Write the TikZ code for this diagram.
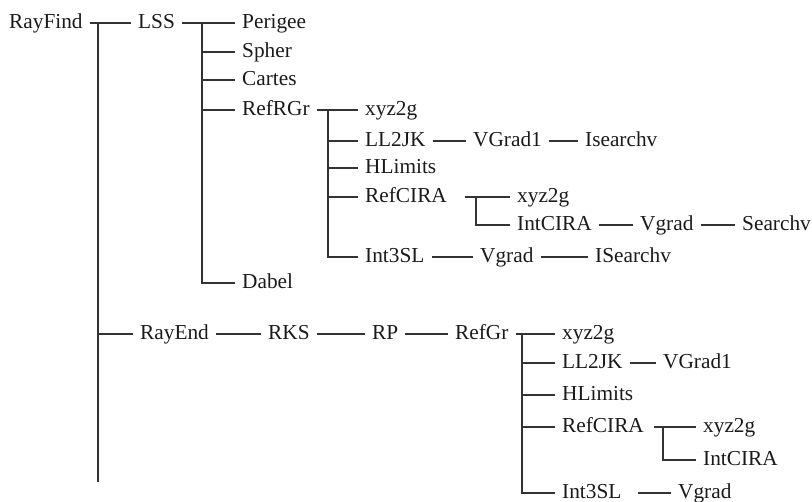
\documentclass[tikz,border=0pt]{standalone}
\usepackage{fontspec}
\setmainfont{Liberation Serif}
\definecolor{linegray}{HTML}{333333}
\definecolor{textgray}{HTML}{1A1A1A}
\tikzset{
  lbl/.style={anchor=west, inner xsep=7pt, inner ysep=0pt,
    text height=12pt, text depth=0pt,
    font=\fontsize{21.3}{24}\selectfont, text=textgray},
  link/.style={draw=linegray, line width=1.8pt}
}
\begin{document}
\begin{tikzpicture}[x=1pt, y=-1pt]
    \useasboundingbox (0,0) rectangle (812,502);

    % 第一层
    \node[lbl] (rayfind) at (2,23) {RayFind};
    \node[lbl] (lss) at (131,23) {LSS};
    \node[lbl] (rayend) at (133,334) {RayEnd};

    % LSS 的子程序
    \node[lbl] (perigee) at (235,23) {Perigee};
    \node[lbl] (spher) at (235,52) {Spher};
    \node[lbl] (cartes) at (235,80) {Cartes};
    \node[lbl] (refrgr) at (235,110) {RefRGr};
    \node[lbl] (dabel) at (235,283) {Dabel};

    % RefRGr 的子程序
    \node[lbl] (xyzA) at (358,110) {xyz2g};
    \node[lbl] (lljkA) at (358,141) {LL2JK};
    \node[lbl] (hlimA) at (358,168) {HLimits};
    \node[lbl] (refciraA) at (358,197) {RefCIRA};
    \node[lbl] (intslA) at (358,257) {Int3SL};
    \node[lbl] (vgradoneA) at (466,141) {VGrad1};
    \node[lbl] (isearchA) at (578,141) {Isearchv};
    \node[lbl] (xyzAA) at (510,197) {xyz2g};
    \node[lbl] (intciraA) at (510,225) {IntCIRA};
    \node[lbl] (vgradA) at (633,225) {Vgrad};
    \node[lbl] (searchA) at (735,225) {Searchv};
    \node[lbl] (vgradAA) at (473,257) {Vgrad};
    \node[lbl] (isearchAA) at (588,257) {ISearchv};

    % RayEnd 一支
    \node[lbl] (rks) at (261,334) {RKS};
    \node[lbl] (rp) at (365,334) {RP};
    \node[lbl] (refgr) at (448,334) {RefGr};
    \node[lbl] (xyzB) at (555,334) {xyz2g};
    \node[lbl] (lljkB) at (555,363) {LL2JK};
    \node[lbl] (hlimB) at (555,395) {HLimits};
    \node[lbl] (refciraB) at (555,427) {RefCIRA};
    \node[lbl] (intslB) at (555,493) {Int3SL};
    \node[lbl] (vgradoneB) at (656,363) {VGrad1};
    \node[lbl] (xyzBB) at (696,427) {xyz2g};
    \node[lbl] (intciraB) at (696,460) {IntCIRA};
    \node[lbl] (vgradB) at (671,493) {Vgrad};

    % 分叉点
    \coordinate (jroot) at (98,23);
    \coordinate (rootend) at (98,482);
    \coordinate (jlss) at (202,23);
    \coordinate (jrefrgr) at (328,110);
    \coordinate (jciraA) at (476,197);
    \coordinate (jrefgr) at (522,334);
    \coordinate (jciraB) at (663,427);

    % 主干
    \draw[link] (rayfind) -- (lss);
    \draw[link] (jroot) -- (rootend);
    \draw[link] (jroot |- rayend.west) -- (rayend);

    % LSS 分支
    \draw[link] (lss) -- (perigee);
    \draw[link] (jlss) |- (dabel);
    \foreach \n in {spher,cartes,refrgr}
        \draw[link] (jlss |- \n.west) -- (\n);

    % RefRGr 分支
    \draw[link] (refrgr) -- (xyzA);
    \draw[link] (jrefrgr) |- (intslA);
    \foreach \n in {lljkA,hlimA,refciraA}
        \draw[link] (jrefrgr |- \n.west) -- (\n);
    \draw[link] (lljkA) -- (vgradoneA);
    \draw[link] (vgradoneA) -- (isearchA);
    \draw[link, shorten <=11pt] (refciraA) -- (xyzAA);
    \draw[link] (jciraA) |- (intciraA);
    \draw[link] (intciraA) -- (vgradA);
    \draw[link] (vgradA) -- (searchA);
    \draw[link] (intslA) -- (vgradAA);
    \draw[link] (vgradAA) -- (isearchAA);

    % RayEnd 分支
    \draw[link] (rayend) -- (rks);
    \draw[link] (rks) -- (rp);
    \draw[link] (rp) -- (refgr);
    \draw[link] (refgr) -- (xyzB);
    \draw[link] (jrefgr) |- (intslB);
    \foreach \n in {lljkB,hlimB,refciraB}
        \draw[link] (jrefgr |- \n.west) -- (\n);
    \draw[link] (lljkB) -- (vgradoneB);
    \draw[link, shorten <=3pt] (refciraB) -- (xyzBB);
    \draw[link] (jciraB) |- (intciraB);
    \draw[link, shorten <=9pt] (intslB) -- (vgradB);
\end{tikzpicture}
\end{document}
